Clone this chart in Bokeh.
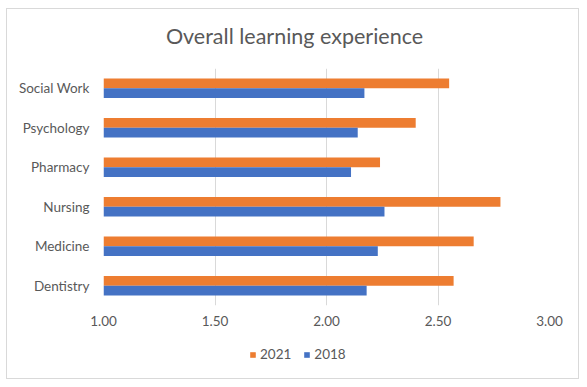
from bokeh.plotting import figure
from bokeh.layouts import column
from bokeh.models import ColumnDataSource, Legend, LegendItem, Range1d, FixedTicker, NumeralTickFormatter, Div
from bokeh.transform import dodge
from bokeh.embed import file_html
from bokeh.resources import INLINE

categories = ["Dentistry", "Medicine", "Nursing", "Pharmacy", "Psychology", "Social Work"]
values_2021 = [2.57, 2.66, 2.78, 2.24, 2.40, 2.55]
values_2018 = [2.18, 2.23, 2.26, 2.11, 2.14, 2.17]
x_ticks = [1.0, 1.5, 2.0, 2.5, 3.0]
series_names = ["2021", "2018"]
colors = ["#ED7D31", "#4472C4"]
title_text = "Overall learning experience"

src = ColumnDataSource(dict(cat=categories, v2021=values_2021, v2018=values_2018))

FONT = "Lato"
GRAY = "#595959"

title_div = Div(text=title_text, width=571, height=40, margin=(0, 0, 0, 0),
                styles={"font-family": FONT, "font-size": "21.5px", "color": GRAY,
                        "text-align": "center", "line-height": "55px",
                        "padding-left": "4px", "box-sizing": "border-box"})

p = figure(width=571, height=291, y_range=categories, x_range=Range1d(1.0, 3.0),
           output_backend="svg", toolbar_location=None,
           min_border_left=96, min_border_right=29, min_border_top=19, min_border_bottom=35)

p.hbar(y=dodge("cat", 0.1225, range=p.y_range), right="v2021", left=1.0, height=0.245,
       source=src, fill_color=colors[0], line_color=None)
p.hbar(y=dodge("cat", -0.1225, range=p.y_range), right="v2018", left=1.0, height=0.245,
       source=src, fill_color=colors[1], line_color=None)

p.xaxis.ticker = FixedTicker(ticks=x_ticks)
p.xaxis.formatter = NumeralTickFormatter(format="0.00")
for ax in (p.xaxis[0], p.yaxis[0]):
    ax.axis_line_color = None
    ax.major_tick_line_color = None
    ax.minor_tick_line_color = None
    ax.major_tick_out = 0
    ax.major_tick_in = 0
    ax.major_label_text_font = FONT
    ax.major_label_text_font_size = "13.5px"
    ax.major_label_text_color = GRAY
p.xaxis.major_label_standoff = 10
p.yaxis.major_label_standoff = 14

p.ygrid.grid_line_color = None
p.xgrid.grid_line_color = "#d9d9d9"
p.outline_line_color = None

# legend strip below the chart
lp = figure(width=571, height=38, x_range=Range1d(0, 1), y_range=Range1d(0, 1),
            x_axis_type=None, y_axis_type=None,
            output_backend="svg", toolbar_location=None,
            min_border_left=0, min_border_right=0, min_border_top=0, min_border_bottom=0)
lp.grid.visible = False
lp.outline_line_color = None
l1 = lp.hbar(y=[-10], left=[-11], right=[-10], height=0.1, fill_color=colors[0], line_color=None)
l2 = lp.hbar(y=[-10], left=[-11], right=[-10], height=0.1, fill_color=colors[1], line_color=None)
legend = Legend(items=[LegendItem(label=series_names[0], renderers=[l1]),
                       LegendItem(label=series_names[1], renderers=[l2])],
                orientation="horizontal", location=(146, 16),
                glyph_width=7, glyph_height=7, label_text_font=FONT,
                label_text_font_size="13.5px", label_text_color=GRAY,
                border_line_color=None, background_fill_alpha=0, spacing=12, label_standoff=4,
                padding=0, margin=0)
lp.add_layout(legend, "center")

layout = column(title_div, p, lp, spacing=0)
layout.styles = {"margin-left": "6px", "margin-top": "8px", "border": "1px solid #d9d9d9"}
open("out.html", "w").write(file_html(layout, INLINE))
